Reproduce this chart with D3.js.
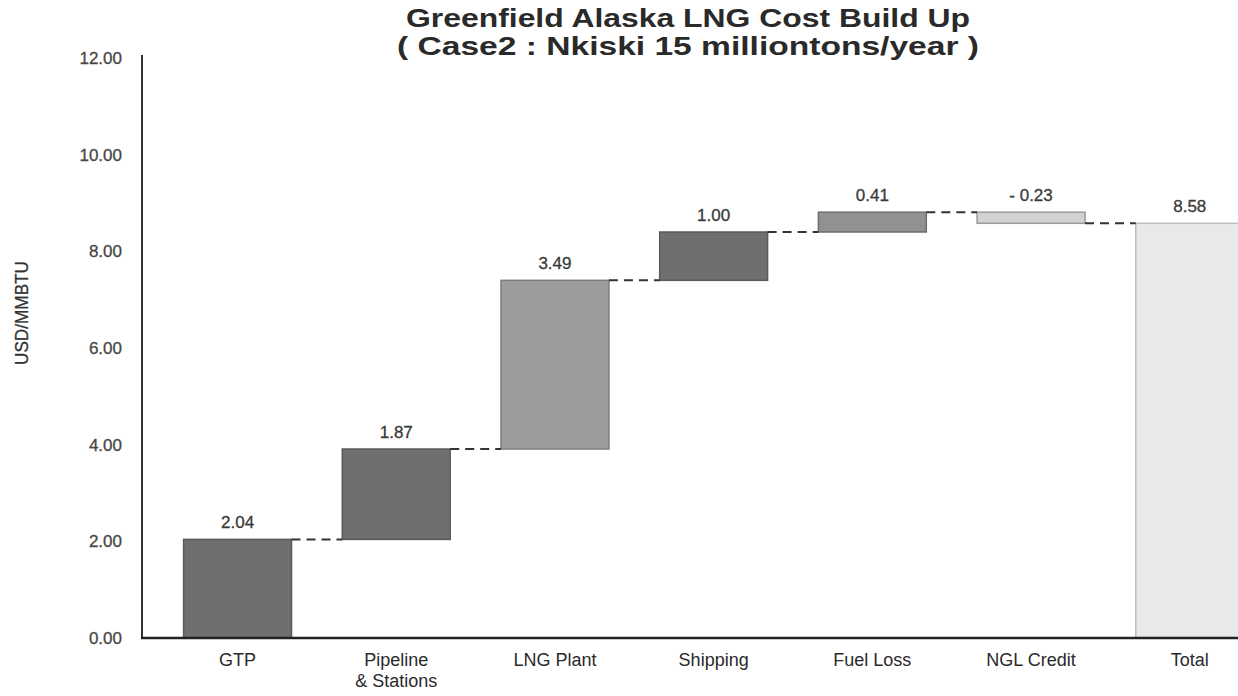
<!DOCTYPE html>
<html>
<head>
<meta charset="utf-8">
<script src="https://cdn.jsdelivr.net/npm/d3@7"></script>
<style>
  html, body { margin: 0; padding: 0; background: #fff; }
  svg { display: block; font-family: "Liberation Sans", Arial, sans-serif; }
</style>
</head>
<body>
<svg id="chart" width="1238" height="696"></svg>
<script>
// Cost build-up steps (USD/MMBTU)
const categories = ["GTP", "Pipeline\n& Stations", "LNG Plant", "Shipping", "Fuel Loss", "NGL Credit", "Total"];
const stepValues = [2.04, 1.87, 3.49, 1.00, 0.41, -0.23];
const yTicks = [0, 2, 4, 6, 8, 10, 12];
const titleLines = ["Greenfield Alaska LNG Cost Build Up", "( Case2 : Nkiski 15 milliontons/year )"];
const yAxisTitle = "USD/MMBTU";

// Fill / outline per category
const fills = {
  "GTP": ["#6f6f6f", "#5a5a5a"],
  "Pipeline\n& Stations": ["#6f6f6f", "#5a5a5a"],
  "LNG Plant": ["#9c9c9c", "#7c7c7c"],
  "Shipping": ["#6f6f6f", "#5a5a5a"],
  "Fuel Loss": ["#919191", "#6e6e6e"],
  "NGL Credit": ["#d2d2d2", "#9a9a9a"],
  "Total": ["#e9e9e9", "#bdbdbd"]
};

// Build waterfall segments from the step values
const total = +d3.sum(stepValues).toFixed(2);
let running = 0;
const segments = stepValues.map((v, i) => {
  const start = running;
  running = +(running + v).toFixed(2);
  return { cat: categories[i], value: v, start, end: running };
});
segments.push({ cat: categories[6], value: total, start: 0, end: total });

const svg = d3.select("#chart");
const x0 = 158.2, step = 158.7;
const x = d3.scaleBand()
  .domain(categories)
  .range([x0, x0 + step * categories.length])
  .paddingInner(0.32)
  .paddingOuter(0.16);
const y = d3.scaleLinear().domain([0, 12]).range([638, 58]);

// Title
svg.append("g").selectAll("text")
  .data(titleLines)
  .join("text")
  .attr("x", 688)
  .attr("y", (d, i) => 27 + i * 28)
  .attr("text-anchor", "middle")
  .attr("font-size", 26)
  .attr("font-weight", "bold")
  .attr("fill", "#2a2a2a")
  .attr("textLength", (d, i) => i === 0 ? 564 : 582)
  .attr("lengthAdjust", "spacingAndGlyphs")
  .text(d => d);

// Y axis
const yAxis = svg.append("g")
  .attr("transform", "translate(142,0)")
  .call(d3.axisLeft(y).tickValues(yTicks).tickFormat(d3.format(".2f")).tickSize(0).tickPadding(20));
yAxis.select(".domain").attr("stroke", "#333").attr("stroke-width", 2)
  .attr("d", `M0,${y(12) - 3}V${y(0)}`);
yAxis.selectAll("text")
  .attr("font-size", 17)
  .attr("fill", "#474747")
  .attr("stroke", "#474747")
  .attr("stroke-width", 0.3)
  .attr("font-family", "Liberation Sans, Arial, sans-serif");

svg.append("text")
  .attr("transform", `translate(28,${313}) rotate(-90)`)
  .attr("text-anchor", "middle")
  .attr("font-size", 19)
  .attr("fill", "#333")
  .attr("stroke", "#333")
  .attr("stroke-width", 0.3)
  .attr("textLength", 104)
  .attr("lengthAdjust", "spacingAndGlyphs")
  .text(yAxisTitle);

// Bars
svg.append("g").selectAll("rect")
  .data(segments)
  .join("rect")
  .attr("x", d => x(d.cat))
  .attr("width", x.bandwidth())
  .attr("y", d => y(Math.max(d.start, d.end)))
  .attr("height", d => Math.abs(y(d.start) - y(d.end)))
  .attr("fill", d => fills[d.cat][0])
  .attr("stroke", d => fills[d.cat][1])
  .attr("stroke-width", 1.5);

// Dashed connectors between consecutive bars
svg.append("g").selectAll("line")
  .data(segments.slice(0, -1))
  .join("line")
  .attr("x1", d => x(d.cat) + x.bandwidth())
  .attr("x2", (d, i) => x(segments[i + 1].cat))
  .attr("y1", d => y(d.end))
  .attr("y2", d => y(d.end))
  .attr("stroke", "#333")
  .attr("stroke-width", 2)
  .attr("stroke-dasharray", "9,6");

// X axis baseline
svg.append("line")
  .attr("x1", 141).attr("x2", 1238)
  .attr("y1", y(0)).attr("y2", y(0))
  .attr("stroke", "#222").attr("stroke-width", 2.5);

// Value labels
const fmt = v => (v < 0 ? "- " : "") + Math.abs(v).toFixed(2);
svg.append("g").selectAll("text")
  .data(segments)
  .join("text")
  .attr("x", d => x(d.cat) + x.bandwidth() / 2)
  .attr("y", d => y(Math.max(d.start, d.end)) - 11)
  .attr("text-anchor", "middle")
  .attr("font-size", 17)
  .attr("fill", "#3a3a3a")
  .attr("stroke", "#3a3a3a")
  .attr("stroke-width", 0.3)
  .text(d => fmt(d.value));

// Category labels
const catLabels = svg.append("g").selectAll("text")
  .data(categories)
  .join("text")
  .attr("x", d => x(d) + x.bandwidth() / 2)
  .attr("y", 666)
  .attr("text-anchor", "middle")
  .attr("font-size", 18)
  .attr("fill", "#2a2a2a");
catLabels.selectAll("tspan")
  .data(d => d.split("\n"))
  .join("tspan")
  .attr("x", function () { return d3.select(this.parentNode).attr("x"); })
  .attr("dy", (d, i) => i === 0 ? 0 : 21)
  .text(d => d);
</script>
</body>
</html>
